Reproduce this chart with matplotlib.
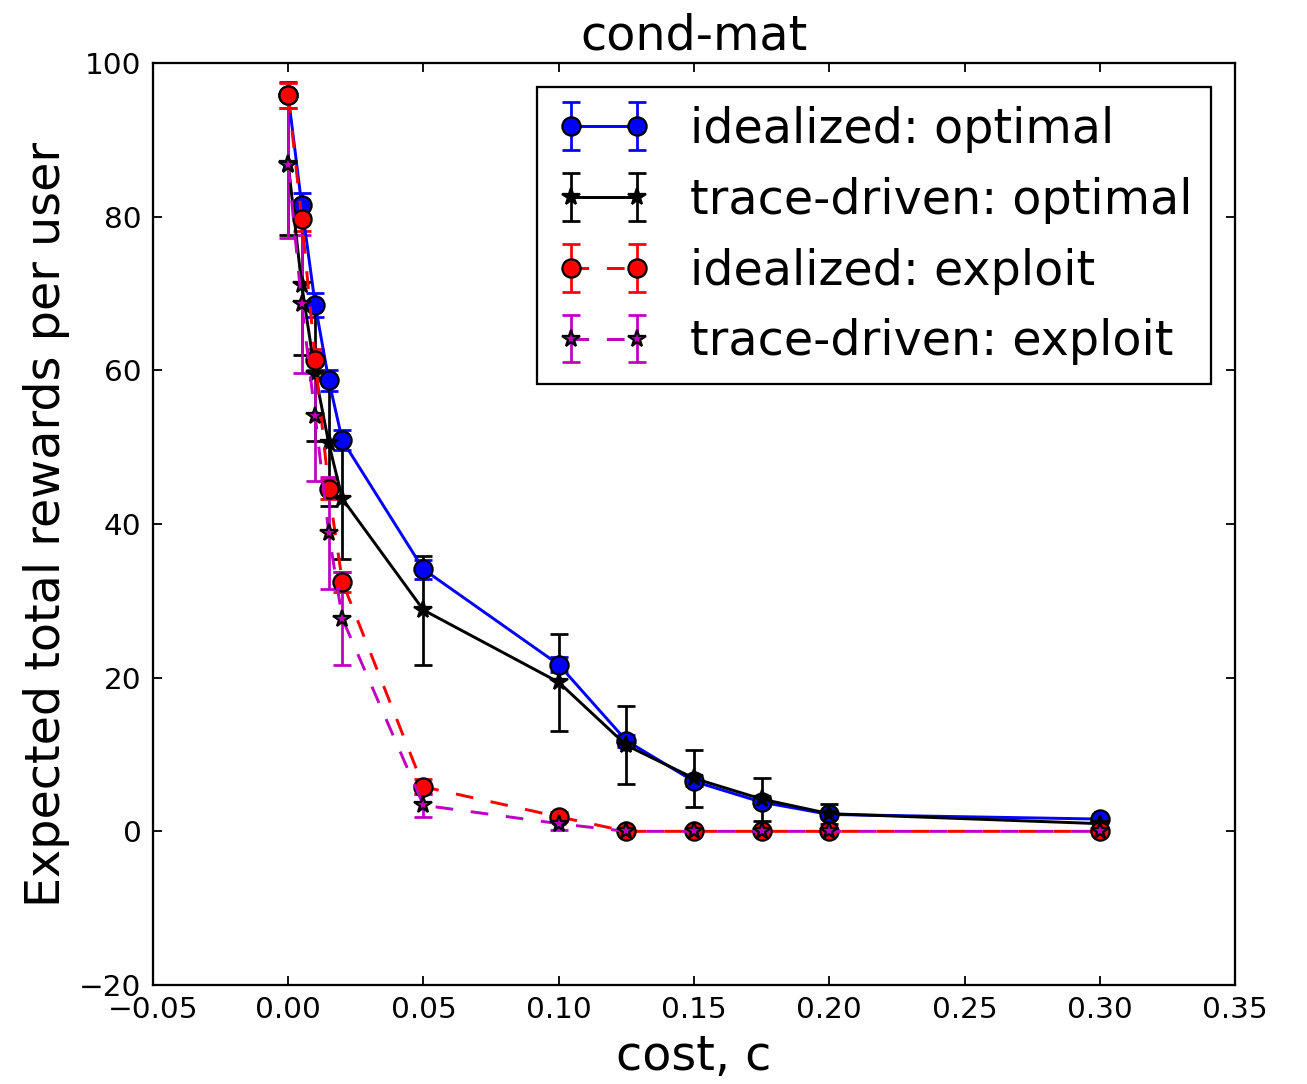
import matplotlib
matplotlib.use("Agg")
import matplotlib.pyplot as plt

# cost values
cost = [0.0, 0.005, 0.01, 0.015, 0.02, 0.05, 0.1, 0.125, 0.15, 0.175, 0.2, 0.3]

# idealized: optimal
ideal_opt = [95.8, 81.5, 68.5, 58.7, 50.9, 34.1, 21.7, 11.8, 6.5, 3.8, 2.2, 1.6]
ideal_opt_err = [1.7, 1.6, 1.5, 1.4, 1.3, 1.2, 1.0, 0.8, 0.6, 0.5, 0.4, 0.3]

# trace-driven: optimal
trace_opt = [86.9, 71.1, 59.5, 50.5, 43.3, 28.8, 19.4, 11.2, 6.9, 4.2, 2.3, 1.0]
trace_opt_err = [9.3, 9.1, 8.7, 8.2, 7.9, 7.1, 6.3, 5.1, 3.7, 2.8, 1.3, 0.5]

# idealized: exploit
ideal_exp = [95.8, 79.7, 61.4, 44.5, 32.5, 5.8, 1.9, 0.0, 0.0, 0.0, 0.0, 0.0]
ideal_exp_err = [1.6, 1.6, 1.4, 1.3, 1.3, 1.0, 0.6, 0.0, 0.0, 0.0, 0.0, 0.0]

# trace-driven: exploit
trace_exp = [86.7, 68.6, 54.0, 38.8, 27.7, 3.4, 1.0, 0.0, 0.0, 0.0, 0.0, 0.0]
trace_exp_err = [9.5, 9.0, 8.4, 7.3, 6.1, 1.5, 0.8, 0.0, 0.0, 0.0, 0.0, 0.0]

DPI = 163.375
fig = plt.figure(figsize=(1307 / DPI, 1084 / DPI), dpi=DPI, facecolor="white")
ax = fig.add_axes([0.117, 0.0913, 0.828, 0.8506])

common = dict(capsize=4, elinewidth=1.2, capthick=1.2, lw=1.3, ms=8, mec="k")
ax.errorbar(cost, ideal_opt, yerr=ideal_opt_err, color="b", ecolor="b", marker="o",
            ls="-", label="idealized: optimal", **common)
ax.errorbar(cost, trace_opt, yerr=trace_opt_err, color="k", ecolor="k", marker="*",
            ls="-", label="trace-driven: optimal", **common)
ax.errorbar(cost, ideal_exp, yerr=ideal_exp_err, color="r", ecolor="r", marker="o",
            ls="--", dashes=(6, 6), label="idealized: exploit", **common)
ax.errorbar(cost, trace_exp, yerr=trace_exp_err, color="m", ecolor="m", marker="*",
            ls="--", dashes=(6, 6), label="trace-driven: exploit", **common)

ax.set_xlim(-0.05, 0.35)
ax.set_ylim(-20, 100)
ax.set_xticks([-0.05, 0.0, 0.05, 0.10, 0.15, 0.20, 0.25, 0.30, 0.35])
ax.set_yticks([-20, 0, 20, 40, 60, 80, 100])
ax.tick_params(direction="in", top=True, right=True, labelsize=13, length=4,
               width=0.8, pad=5)
for sp in ax.spines.values():
    sp.set_linewidth(1.0)

ax.set_title("cond-mat", fontsize=21)
ax.set_xlabel("cost, c", fontsize=21)
ax.set_ylabel("Expected total rewards per user", fontsize=21)

leg = ax.legend(loc="upper right", numpoints=2, fontsize=21, fancybox=False,
                framealpha=1, edgecolor="k", handlelength=2.0, borderaxespad=0.5)
leg.get_frame().set_linewidth(1.0)

fig.savefig("out.png", dpi=DPI, facecolor="white")
